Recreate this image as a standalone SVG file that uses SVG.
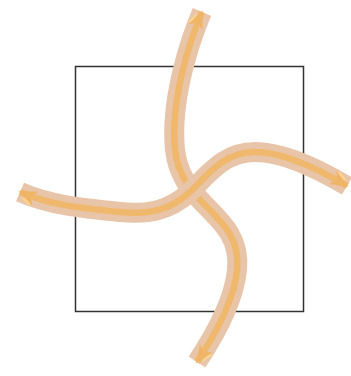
<svg xmlns="http://www.w3.org/2000/svg" width="351" height="376" viewBox="0 0 351 376">
<style>
.band{fill:none;stroke:#e8c4a9;stroke-width:20;stroke-linecap:butt}
.core{fill:none;stroke:#f0b86c;stroke-width:6.5;stroke-linecap:butt}
</style>
<defs>
<marker id="ah" viewBox="0 0 12 12" refX="10" refY="6" markerWidth="20" markerHeight="20" markerUnits="userSpaceOnUse" orient="auto-start-reverse">
<path d="M1,0.5 L9,3.5 L3,3.8 Z" fill="#fcd48c"/>
<path d="M0,1.5 L11,6 L0,10.5 L3,6 Z" fill="#f0b466"/>
</marker>
</defs>
<rect x="75.5" y="66.5" width="228" height="245" fill="none" stroke="#333" stroke-width="1.5"/>
<g id="connectors">
<path class="band" d="M202,12 C190,40 170,100 175,150 C178,175 190,190 205,205 C225,225 240,240 237,270 C234,300 215,335 197,362"/>
<path class="core" d="M202,12 C190,40 170,100 175,150 C178,175 190,190 205,205 C225,225 240,240 237,270 C234,300 215,335 197,362" marker-start="url(#ah)" marker-end="url(#ah)"/>
<path class="band" d="M20,192 C50,205 80,208 120,212 C150,215 170,210 190,192 C210,172 225,152 255,152 C285,152 320,170 347,186"/>
<path class="core" d="M20,192 C50,205 80,208 120,212 C150,215 170,210 190,192 C210,172 225,152 255,152 C285,152 320,170 347,186" marker-start="url(#ah)" marker-end="url(#ah)"/>
</g>
</svg>
